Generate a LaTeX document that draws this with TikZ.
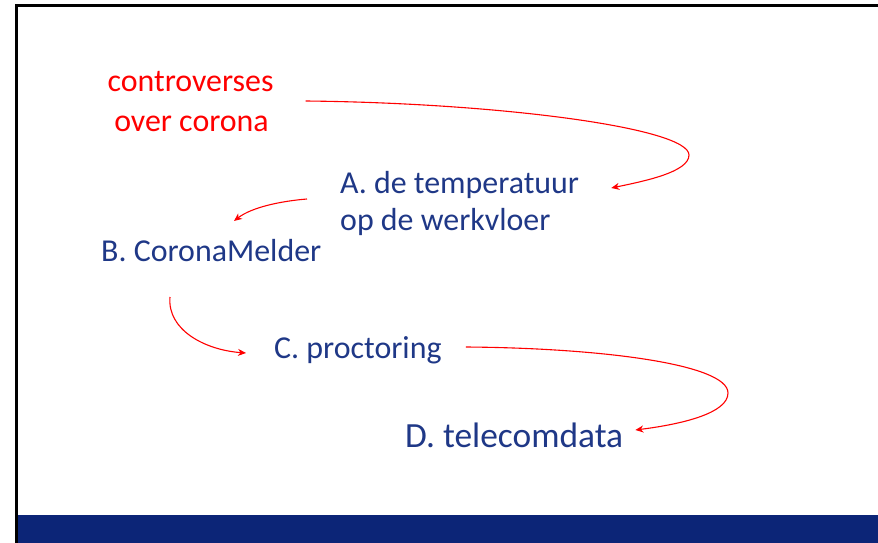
\documentclass[tikz,border=0pt]{standalone}
\usepackage{fontspec}
\setmainfont{Carlito}
\usetikzlibrary{arrows.meta,calc}
\definecolor{txtblue}{RGB}{31,56,135}
\definecolor{barblue}{RGB}{12,37,119}
\begin{document}
\begin{tikzpicture}[x=1pt,y=-1pt,
  lbl/.style={inner sep=0pt, text=txtblue, font=\fontsize{31.9}{38}\selectfont},
  redlbl/.style={lbl, text=red},
  biglbl/.style={lbl, font=\fontsize{35.4}{42}\selectfont},
  arr/.style={red, line width=1.1pt, -{Stealth[length=8pt,width=7pt,inset=2.5pt]}}]
\useasboundingbox (0,0) rectangle (878,543);
\fill[white] (0,0) rectangle (878,543);
\fill[barblue] (17,515) rectangle (878,543);
\draw[line width=2.5pt] (16.5,543) -- (16.5,5.5) -- (878,5.5);

\node[redlbl, anchor=base] (c1) at (190.5,92) {controverses};
\node[redlbl, anchor=base] (c2) at (191.5,131) {over corona};
\node[lbl, anchor=base west] (a1) at (340,193) {A. de temperatuur};
\node[lbl, anchor=base west] (a2) at (340,230) {op de werkvloer};
\node[lbl, anchor=base west] (b) at (101,261) {B. CoronaMelder};
\node[lbl, anchor=base west] (c) at (274,358) {C. proctoring};
\node[biglbl, anchor=base west] (d) at (405,447) {D. telecomdata};

\draw[arr] ($(c1.base east)+(32,9)$) .. controls (500,103) and (689,128) .. (689,155)
  .. controls (689,172) and (645,181) .. ($(a1.base east)+(32,-5)$);
\draw[arr] ($(a1.base west)+(-33,6)$) .. controls (282,201) and (252,207) .. ($(b.base west)+(133,-40)$);
\draw[arr] ($(b.base west)+(69,36)$) .. controls (167,330) and (205,350) .. ($(c.base west)+(-28,-5)$);
\draw[arr] ($(c.base east)+(24,-11)$) .. controls (600,348) and (728,364) .. (728,393)
  .. controls (728,413) and (683,424) .. ($(d.base east)+(12,-17)$);
\end{tikzpicture}
\end{document}
